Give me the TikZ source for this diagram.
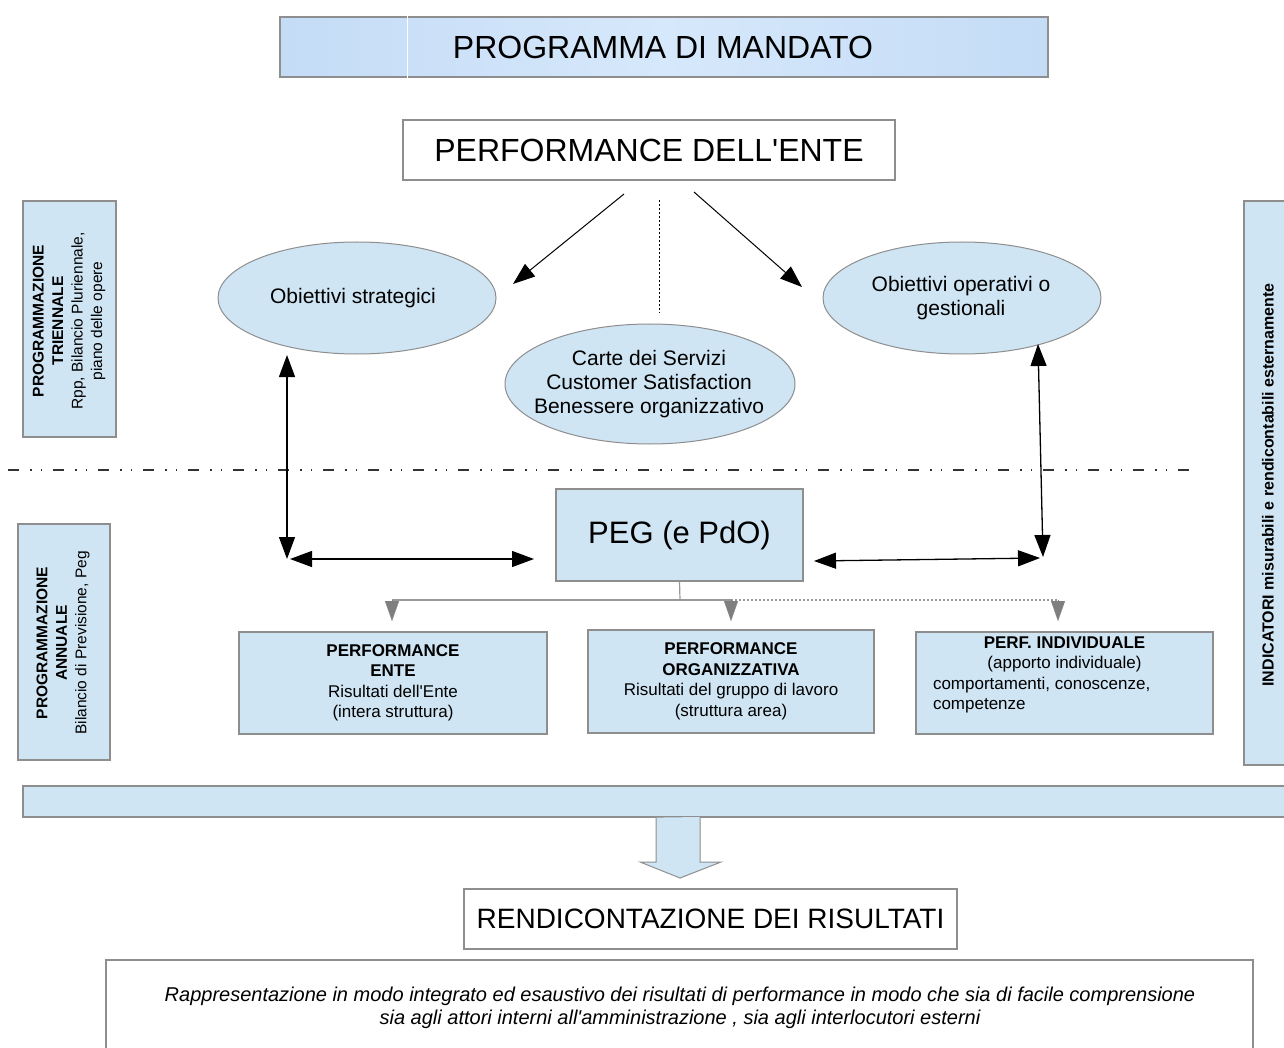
\documentclass[tikz,border=0pt]{standalone}
\usepackage{fontspec}
\setmainfont{Liberation Sans}[Ligatures=TeXOff]
\usetikzlibrary{arrows.meta,shapes.geometric}
\definecolor{lb}{HTML}{CFE5F3}
\definecolor{bd}{HTML}{8E8E8E}
\definecolor{bannerA}{HTML}{C4DCF6}
\definecolor{bannerB}{HTML}{D6E8FB}
\definecolor{gtri}{HTML}{7F7F7F}
\tikzset{
  box/.style={draw=bd, line width=1.2pt, fill=lb, inner sep=0pt, rectangle},
  wbox/.style={draw=bd, line width=1.2pt, fill=white, inner sep=0pt, rectangle},
  ell/.style={draw=bd, line width=1pt, fill=lb, ellipse, inner sep=0pt},
  etxt/.style={align=center, inner sep=0pt, font=\fontsize{21}{24.5}\selectfont},
  dbl/.style={{Triangle[length=22pt,width=16pt]}-{Triangle[length=22pt,width=16pt]}, line width=1.3pt, black},
  sgl/.style={-{Triangle[length=22pt,width=16pt]}, line width=1pt, black},
  gline/.style={draw=gray!80, line width=1.2pt},
  gtip/.style={-{Triangle[length=20pt,width=14pt]}, draw=gtri, fill=gtri, line width=0.1pt},
  vt/.style={rotate=90, align=center, inner sep=0pt, font=\fontsize{15.5}{19.5}\selectfont},
  bt/.style={align=center, inner sep=0pt, font=\fontsize{17}{20.5}\selectfont},
}
\begin{document}
\begin{tikzpicture}[x=1pt,y=-1pt]
\useasboundingbox[fill=white] (0,0) rectangle (1284,1048);

% banner
\node[inner sep=0pt, minimum width=768pt, minimum height=60pt, draw=bd, line width=1.2pt,
      left color=bannerA, right color=bannerA, middle color=bannerB] (banner) at (664,47) {};
\draw[white, line width=1.2pt] (banner.north west) ++(128,0) coordinate (wl1) -- (wl1 |- banner.south);
\node[font=\fontsize{32}{36}\selectfont] (bannertxt) at (663,47) {PROGRAMMA DI MANDATO};

% performance ente
\node[wbox, minimum width=492pt, minimum height=60pt, font=\fontsize{32}{36}\selectfont] (perf) at (649,150) {PERFORMANCE DELL'ENTE};

% ellipses
\node[ell, minimum width=278pt, minimum height=112pt] (obstr) at (357,298) {};
\node[etxt] (obstrtxt) at (353,298) {Obiettivi strategici};
\node[ell, minimum width=278pt, minimum height=112pt] (obop) at (962,298) {};
\node[etxt] (oboptxt) at (961,298) {Obiettivi operativi o\\gestionali};
\node[ell, minimum width=290pt, minimum height=120pt] (carte) at (650,384) {};
\node[etxt, font=\fontsize{21}{24}\selectfont] (cartetxt) at (649,384) {Carte dei Servizi\\Customer Satisfaction\\Benessere organizzativo};

% arrows from performance
\coordinate (pa1) at (624,194);
\coordinate (pe1) at (513,284);
\coordinate (pa2) at (694,192);
\coordinate (pe2) at (802,287);
\draw[sgl] (pa1) -- (pe1);
\draw[sgl] (pa2) -- (pe2);
\coordinate (d1) at (659,200);
\coordinate (d2) at (659,313);
\draw[black, line width=1pt, dash pattern=on 2pt off 2pt] (d1) -- (d2);

% left side boxes
\node[box, minimum width=93pt, minimum height=236pt] (ptri) at (69.5,319) {};
\node[vt] (ptritxt) at (69,321) {\textbf{PROGRAMMAZIONE}\\\textbf{TRIENNALE}\\Rpp, Bilancio Pluriennale,\\piano delle opere};
\node[box, minimum width=92pt, minimum height=236pt] (pann) at (64,642) {};
\node[vt] (panntxt) at (63,643) {\textbf{PROGRAMMAZIONE}\\\textbf{ANNUALE}\\Bilancio di Previsione, Peg};

% right box
\node[box, minimum width=48pt, minimum height=564pt] (ind) at (1268,483) {};
\node[vt, font=\bfseries\fontsize{16}{19}\selectfont] (indtxt) at (1268,485) {INDICATORI misurabili e rendicontabili esternamente};

% dash-dot-dot separator
\coordinate (s1) at (8,470);
\coordinate (s2) at (1200,470);
\draw[black!80, line width=1.5pt, dash pattern=on 11pt off 11pt on 1.5pt off 9pt on 1.5pt off 11pt] (s1) -- (s2);

% PEG
\node[box, minimum width=247pt, minimum height=92pt, font=\fontsize{31}{35}\selectfont] (peg) at (679.5,535) {PEG (e PdO)};

% double arrows
\coordinate (lu) at (287,355);
\coordinate (ld) at (287,559);
\coordinate (lh1) at (290,559);
\coordinate (lh2) at (534,559);
\draw[dbl] (lu) -- (ld);
\draw[dbl] (lh1) -- (lh2);
\coordinate (ru) at (1038,344);
\coordinate (rd) at (1043,557);
\coordinate (rh1) at (814,561);
\coordinate (rh2) at (1040,558);
\draw[dbl] (ru) -- (rd);
\draw[dbl] (rh1) -- (rh2);

% PEG tree
\coordinate (j) at (680,600);
\coordinate (h1) at (392,600);
\coordinate (h2) at (731,600);
\coordinate (h3) at (1058,600);
\coordinate (t1) at (392,621);
\coordinate (t2) at (731,621);
\coordinate (t3) at (1058,621);
\draw[gline] (peg.south) -- (j);
\draw[gline] (h1) -- (h2);
\draw[draw=gray!80, line width=1.2pt, dash pattern=on 2pt off 2pt] (h2) -- (h3);
\draw[gtip] (h1) -- (t1);
\draw[gtip] (h2) -- (t2);
\draw[gtip] (h3) -- (t3);

% bottom performance boxes
\node[box, minimum width=308pt, minimum height=102pt, bt] (b1) at (393,683)
  {\textbf{PERFORMANCE}\\\textbf{ENTE}\\Risultati dell'Ente\\(intera struttura)};
\node[box, minimum width=286pt, minimum height=103pt, bt] (b2) at (731,681.5)
  {\textbf{PERFORMANCE}\\\textbf{ORGANIZZATIVA}\\Risultati del gruppo di lavoro\\(struttura area)};
\node[box, minimum width=297pt, minimum height=102pt] (b3) at (1064.5,683) {};
\node[bt] (b3txt) at (1064.5,675)
  {\textbf{PERF. INDIVIDUALE}\\(apporto individuale)\\\makebox[263pt][l]{comportamenti, conoscenze,}\\\makebox[263pt][l]{competenze}};

% wide bar
\node[box, minimum width=1267pt, minimum height=31pt] (bar) at (656.5,801.5) {};

% block arrow
\draw[draw=bd, fill=lb, line width=1pt] (bar.south -| 656,0) coordinate (ba1)
  -- (656,862) -- (640,862) -- (680,878) -- (721,862) -- (700,862) -- (700,817) ;

% rendicontazione
\node[wbox, minimum width=493pt, minimum height=60pt, font=\fontsize{28}{32}\selectfont] (rend) at (710.5,919) {RENDICONTAZIONE DEI RISULTATI};

% bottom text box
\node[wbox, minimum width=1147pt, minimum height=100pt] (desc) at (679.5,1010) {};
\node[align=center, inner sep=0pt, font=\itshape\fontsize{20}{23}\selectfont] (desctxt) at (680,1008)
  {Rappresentazione in modo integrato ed esaustivo dei risultati di performance in modo che sia di facile comprensione\\sia agli attori interni all'amministrazione , sia agli interlocutori esterni};
\end{tikzpicture}
\end{document}
